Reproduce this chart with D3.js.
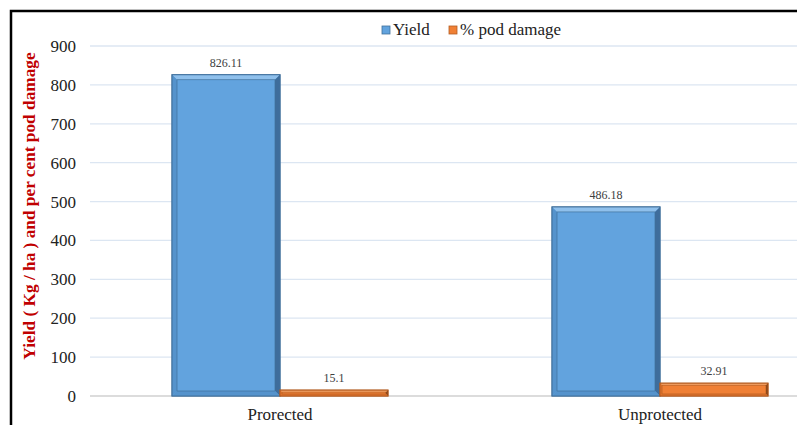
<!DOCTYPE html>
<html><head><meta charset="utf-8">
<script src="https://cdn.jsdelivr.net/npm/d3@7"></script>
<style>body{margin:0;background:#fff}svg{display:block}svg text{font-family:"Liberation Serif","Times New Roman",Tinos,serif}</style>
</head><body>
<script>
const categories = ["Prorected", "Unprotected"];
const seriesNames = ["Yield", "% pod damage"];
const yieldValues = [826.11, 486.18];
const podDamageValues = [15.1, 32.91];
const yTicks = [0, 100, 200, 300, 400, 500, 600, 700, 800, 900];
const yTitle = "Yield ( Kg / ha ) and per cent pod damage";

const W = 797, H = 425;
const svg = d3.select("body").append("svg").attr("width", W).attr("height", H);
const serif = '"Liberation Serif","Times New Roman",Tinos,serif';

// frame
svg.append("path").attr("d", `M11,${H} L11,11 L${W},11`).attr("fill","none").attr("stroke","#000").attr("stroke-width",2.5);

const x0 = d3.scaleBand().domain(categories).range([90, 850]).paddingInner(0.4316).paddingOuter(0.2158);
const x1 = d3.scaleBand().domain(seriesNames).range([0, x0.bandwidth()]).padding(0);
const y = d3.scaleLinear().domain([0, 900]).range([396, 46]);

// gridlines
svg.append("g").selectAll("line").data(yTicks.filter(d=>d>0)).join("line")
  .attr("x1", 90).attr("x2", W).attr("y1", d=>y(d)).attr("y2", d=>y(d))
  .attr("stroke", "#dce6f2").attr("stroke-width", 1.3);
svg.append("line").attr("x1",90).attr("x2",W).attr("y1",y(0)).attr("y2",y(0)).attr("stroke","#d0d0d0").attr("stroke-width",1.3);

// y axis ticks via d3 axis
const yAxis = svg.append("g").attr("transform","translate(90,0)")
  .call(d3.axisLeft(y).tickValues(yTicks).tickSize(0).tickPadding(14).tickFormat(d3.format("d")));
yAxis.attr("font-family", null);
yAxis.select(".domain").remove();
yAxis.selectAll("text").style("font-family", serif).attr("font-size", 17).attr("fill","#222");

// y title
svg.append("text").attr("transform","translate(35,206) rotate(-90)")
  .attr("text-anchor","middle").style("font-family",serif).attr("font-weight","bold")
  .attr("font-size",17.3).attr("fill","#c00000").text(yTitle);

// x axis labels
const xAxis = svg.append("g").attr("transform",`translate(0,${y(0)})`)
  .call(d3.axisBottom(x0).tickSize(0).tickPadding(10));
xAxis.attr("font-family", null);
xAxis.select(".domain").remove();
xAxis.selectAll("text").style("font-family",serif).attr("font-size",17).attr("fill","#222").attr("dy","0.85em");

const colors = {
  "Yield": {fill:"#62a3de", light:"#8fc0ec", dark:"#3e6d9c", mid:"#5593cc", edge:"#41719c"},
  "% pod damage": {fill:"#f08035", light:"#f7a66a", dark:"#7a3f18", mid:"#e2732b", edge:"#b35d23"}
};

const data = [];
categories.forEach((c,i)=>{
  data.push({cat:c, s:"Yield", v:yieldValues[i]});
  data.push({cat:c, s:"% pod damage", v:podDamageValues[i]});
});

const bars = svg.append("g").selectAll("g").data(data).join("g");
bars.each(function(d){
  const g = d3.select(this);
  const bx = x0(d.cat) + x1(d.s), bw = x1.bandwidth();
  const by = y(d.v), bh = y(0) - y(d.v);
  const c = colors[d.s];
  const b = bh < 20 ? 2 : 5;
  g.append("rect").attr("x",bx).attr("y",by).attr("width",bw).attr("height",bh).attr("fill",c.fill).attr("stroke",c.edge).attr("stroke-width",1);
  if (bh >= 2*b + 1) {
    g.append("path").attr("d",`M${bx},${by} L${bx+bw},${by} L${bx+bw-b},${by+b} L${bx+b},${by+b}Z`).attr("fill",c.light);
    g.append("path").attr("d",`M${bx+bw},${by} L${bx+bw},${by+bh} L${bx+bw-b},${by+bh-b} L${bx+bw-b},${by+b}Z`).attr("fill",c.dark);
    g.append("path").attr("d",`M${bx},${by+bh} L${bx+bw},${by+bh} L${bx+bw-b},${by+bh-b} L${bx+b},${by+bh-b}Z`).attr("fill",c.mid);
    g.append("path").attr("d",`M${bx},${by} L${bx+b},${by+b} L${bx+b},${by+bh-b} L${bx},${by+bh}Z`).attr("fill",c.mid);
    g.append("rect").attr("x",bx+b).attr("y",by+b).attr("width",bw-2*b).attr("height",bh-2*b).attr("fill","none").attr("stroke",c.edge).attr("stroke-width",0.7);
    g.append("rect").attr("x",bx).attr("y",by).attr("width",bw).attr("height",bh).attr("fill","none").attr("stroke",c.edge).attr("stroke-width",1);
  } else {
    g.append("rect").attr("x",bx+bw-2).attr("y",by).attr("width",2).attr("height",bh).attr("fill",c.dark);
  }
  g.append("text").attr("x",bx+bw/2).attr("y",by-8).attr("text-anchor","middle")
    .style("font-family",serif).attr("font-size",12).attr("fill","#404040").text(d.v);
});

// legend
const leg = svg.append("g");
const legItems = [{s:"Yield", x:382}, {s:"% pod damage", x:449}];
legItems.forEach(it=>{
  const c = colors[it.s];
  leg.append("rect").attr("x",it.x).attr("y",26).attr("width",8).attr("height",8).attr("fill",c.fill).attr("stroke",c.edge).attr("stroke-width",0.8);
  leg.append("text").attr("x",it.x+11).attr("y",35).style("font-family",serif).attr("font-size",17).attr("fill","#222").text(it.s);
});
</script>
</body></html>
